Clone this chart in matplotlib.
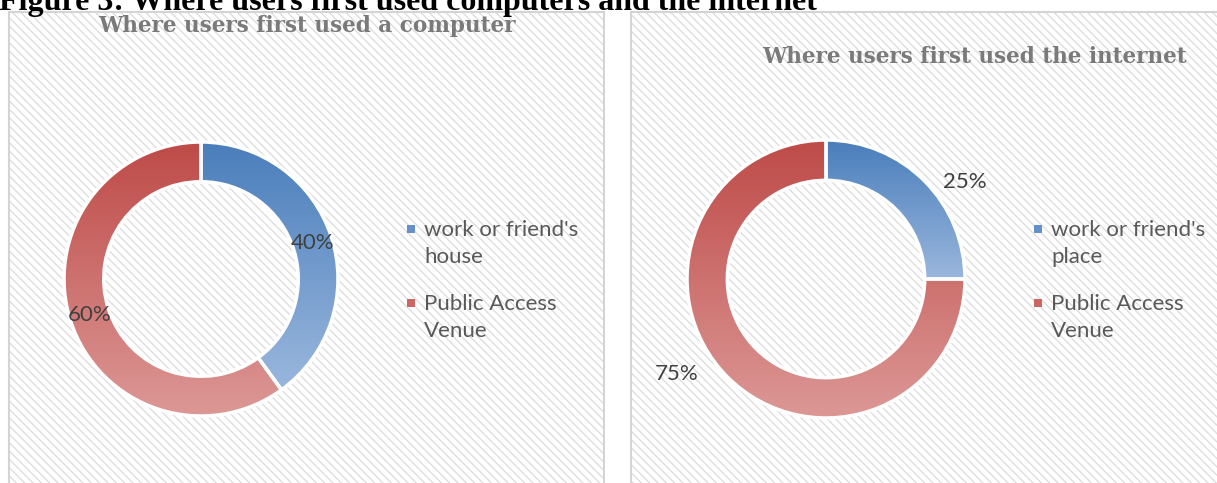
import numpy as np
import matplotlib.pyplot as plt
from matplotlib.patches import Rectangle
from matplotlib.colors import LinearSegmentedColormap

# -------------------------------
# Data
# -------------------------------
fig_title = "Figure 3: Where users first used computers and the internet"

computer_title = "Where users first used a computer"
computer_labels = ["work or friend's\nhouse", "Public Access\nVenue"]
computer_values = [40, 60]

internet_title = "Where users first used the internet"
internet_labels = ["work or friend's\nplace", "Public Access\nVenue"]
internet_values = [25, 75]

# gradient colours (top, bottom) per series
grad_colors = [("#4a7ebb", "#9ab7dd"), ("#be4b48", "#dc9896")]
legend_colors = ["#6690c8", "#cc6664"]

W, H = 1217, 483
fig = plt.figure(figsize=(W / 100, H / 100), dpi=100)


def fx(x):
    return x / W


def fy(y):
    return 1 - y / H


# -------------------------------
# Panels (hatched background)
# -------------------------------
for (x0, x1) in [(9, 604), (631, 1222)]:
    bg = Rectangle((fx(x0), fy(490)), fx(x1) - fx(x0), fy(12) - fy(490),
                   transform=fig.transFigure, facecolor="white",
                   edgecolor="#dedede", hatch="\\\\\\\\", lw=0, zorder=0)
    fig.add_artist(bg)
    border = Rectangle((fx(x0), fy(490)), fx(x1) - fx(x0), fy(12) - fy(490),
                       transform=fig.transFigure, facecolor="none",
                       edgecolor="#d4d4d4", lw=1.5, zorder=1)
    fig.add_artist(border)

fig.text(fx(-1), fy(10), fig_title, fontsize=23, fontweight="bold",
         family="Liberation Serif", color="black", va="baseline", ha="left")


def donut(cx, cy, R, values, title, title_xy, labels, legend_x, pct_pos=None):
    ax = fig.add_axes([fx(cx - R), fy(cy + R), 2 * R / W, 2 * R / H])
    wedges, _, autotexts = ax.pie(values, startangle=90, counterclock=False,
                                  radius=1, autopct="%1.0f%%", pctdistance=0.855,
                                  wedgeprops=dict(width=0.29, edgecolor="white", linewidth=2.5),
                                  textprops=dict(fontsize=16, family="Lato", color="#404040"))
    for w, (c_top, c_bot) in zip(wedges, grad_colors):
        ext = w.get_path().get_extents()
        cmap = LinearSegmentedColormap.from_list("g", [c_top, c_bot])
        grad = np.linspace(0, 1, 256).reshape(-1, 1)
        img = ax.imshow(grad, cmap=cmap, aspect="auto",
                        extent=[ext.x0, ext.x1, ext.y0, ext.y1], origin="upper", zorder=1)
        img.set_clip_path(w)
        w.set_facecolor("none")
        w.set_zorder(2)
    for t in autotexts:
        t.set_zorder(3)
    if pct_pos is not None:
        for t, (ang, r) in zip(autotexts, pct_pos):
            a = np.deg2rad(ang)
            t.set_position((r * np.cos(a), r * np.sin(a)))
    ax.set_xlim(-1, 1)
    ax.set_ylim(-1, 1)
    ax.set_aspect("equal")
    ax.axis("off")

    fig.text(fx(title_xy[0]), fy(title_xy[1]), title, fontsize=15.5, fontweight="bold",
             family="DejaVu Serif", color="#7a7a7a", ha="center", va="center")

    # legend
    for lab, col, ly in zip(labels, legend_colors, [229, 303]):
        fig.add_artist(Rectangle((fx(legend_x - 4), fy(ly + 4)), 8 / W, 8 / H,
                                 transform=fig.transFigure, facecolor=col, lw=0))
        fig.text(fx(legend_x + 13), fy(ly + 14.5), lab, fontsize=16, family="Lato",
                 color="#595959", ha="left", va="center", linespacing=1.45)


donut(201, 279, 137, computer_values, computer_title, (307, 26),
      computer_labels, 411)
donut(826, 279, 139, internet_values, internet_title, (974, 57),
      internet_labels, 1038, pct_pos=[(35, 1.22), (212.5, 1.27)])

plt.savefig("out.png", dpi=100)
